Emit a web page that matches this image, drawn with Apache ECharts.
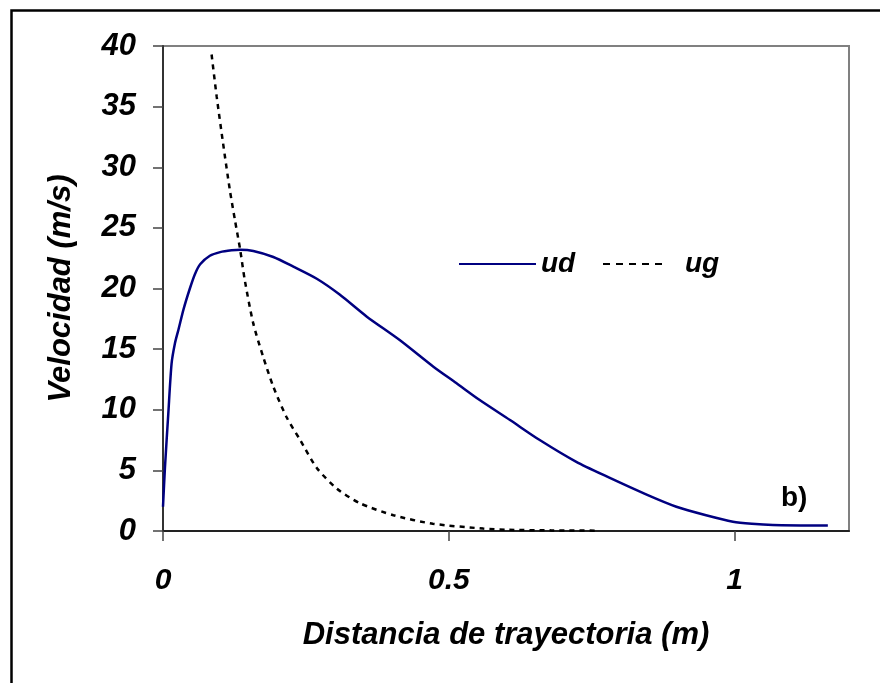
<!DOCTYPE html>
<html>
<head>
<meta charset="utf-8">
<script src="https://cdn.jsdelivr.net/npm/echarts@6/dist/echarts.min.js"></script>
<style>html,body{margin:0;padding:0;background:#fff}#c{width:880px;height:683px}</style>
</head>
<body>
<div id="c"></div>
<script>
// ud: particle velocity vs trajectory distance
const udX = [0, 0.0035, 0.0093, 0.015, 0.021, 0.027, 0.036, 0.047, 0.056, 0.065, 0.082, 0.1, 0.12, 0.135, 0.158, 0.193, 0.228, 0.269, 0.309, 0.356, 0.414, 0.473, 0.513, 0.554, 0.607, 0.659, 0.723, 0.776, 0.846, 0.898, 0.95, 0.997, 1.03, 1.067, 1.163];
const udY = [2.0, 5.3, 9.7, 13.8, 15.5, 16.6, 18.3, 20.0, 21.2, 22.0, 22.7, 23.0, 23.15, 23.2, 23.1, 22.6, 21.8, 20.8, 19.5, 17.7, 15.75, 13.55, 12.2, 10.8, 9.15, 7.5, 5.7, 4.5, 3.0, 2.0, 1.3, 0.77, 0.6, 0.5, 0.45];
// ug: gas velocity vs trajectory distance
const ugX = [0.085, 0.094, 0.105, 0.117, 0.126, 0.135, 0.143, 0.158, 0.175, 0.193, 0.216, 0.24, 0.269, 0.304, 0.344, 0.403, 0.472, 0.56, 0.6, 0.68, 0.76];
const ugY = [39.3, 35.8, 32.0, 28.1, 25.6, 23.2, 20.7, 17.1, 14.4, 11.9, 9.4, 7.5, 5.2, 3.5, 2.3, 1.3, 0.6, 0.2, 0.1, 0.05, 0.03];
const xTicks = [0, 0.5, 1];
const seriesNames = ['ud', 'ug'];
const xName = 'Distancia de trayectoria (m)';
const yName = 'Velocidad (m/s)';
const panelLabel = 'b)';

const FONT = "'Liberation Sans', Arial, sans-serif";
const zip = (xs, ys) => xs.map((x, i) => [x, ys[i]]);
const legendText = {fontFamily: FONT, fontSize: 28, fontWeight: 'bold', fontStyle: 'italic', color: '#000'};

const chart = echarts.init(document.getElementById('c'), null, {renderer: 'canvas'});
chart.setOption({
  animation: false,
  backgroundColor: '#fff',
  grid: {left: 163, top: 46, right: 31, bottom: 152, show: true, borderColor: '#808080', borderWidth: 2, backgroundColor: 'transparent'},
  legend: [
    {left: 453, top: 245, itemWidth: 77, itemHeight: 14, data: [seriesNames[0]],
     itemStyle: {color: 'rgba(0,0,0,0)', borderWidth: 0},
     textStyle: Object.assign({}, legendText, {padding: [0, 0, 0, 0]})},
    {left: 597, top: 245, itemWidth: 63, itemHeight: 14, data: [seriesNames[1]],
     itemStyle: {color: 'rgba(0,0,0,0)', borderWidth: 0},
     lineStyle: {type: [7, 6]},
     textStyle: Object.assign({}, legendText, {padding: [0, 0, 0, 14]})}
  ],
  xAxis: {
    type: 'value', min: 0, max: 1.2, interval: 0.5,
    name: xName, nameLocation: 'middle', nameGap: 89,
    nameTextStyle: {fontFamily: FONT, fontSize: 31, fontWeight: 'bold', fontStyle: 'italic', color: '#000'},
    axisLine: {show: true, onZero: false, lineStyle: {color: '#222', width: 2}},
    axisTick: {show: true, inside: false, length: 10, lineStyle: {color: '#444', width: 1.5}},
    axisLabel: {margin: 35, showMaxLabel: false, fontFamily: FONT, fontSize: 30, fontWeight: 'bold', fontStyle: 'italic', color: '#000',
      formatter: v => (xTicks.includes(v) ? String(v) : '')},
    splitLine: {show: false}
  },
  yAxis: {
    type: 'value', min: 0, max: 40, interval: 5,
    name: yName, nameLocation: 'middle', nameGap: 86,
    nameTextStyle: {fontFamily: FONT, fontSize: 31, fontWeight: 'bold', fontStyle: 'italic', color: '#000'},
    axisLine: {show: true, onZero: false, lineStyle: {color: '#333', width: 2}},
    axisTick: {show: true, inside: false, length: 10, lineStyle: {color: '#444', width: 1.5}},
    axisLabel: {margin: 27, fontFamily: FONT, fontSize: 31, fontWeight: 'bold', fontStyle: 'italic', color: '#000'},
    splitLine: {show: false}
  },
  series: [
    {name: seriesNames[0], type: 'line', data: zip(udX, udY), smooth: 0.25, symbol: 'none',
     lineStyle: {color: '#000080', width: 2.5}, itemStyle: {color: '#000080'}},
    {name: seriesNames[1], type: 'line', data: zip(ugX, ugY), smooth: 0.25, symbol: 'none',
     lineStyle: {color: '#000', width: 2.5, type: [5, 5]}, itemStyle: {color: '#000'}}
  ],
  graphic: [
    {type: 'rect', left: 9, top: 8, shape: {x: 0, y: 0, width: 900, height: 700}, silent: true,
     style: {fill: 'none', stroke: '#000', lineWidth: 2.5}},
    {type: 'text', left: 781, top: 484, style: {text: panelLabel, font: "bold 28px 'Liberation Sans', Arial, sans-serif", fill: '#000'}}
  ]
});
</script>
</body>
</html>
